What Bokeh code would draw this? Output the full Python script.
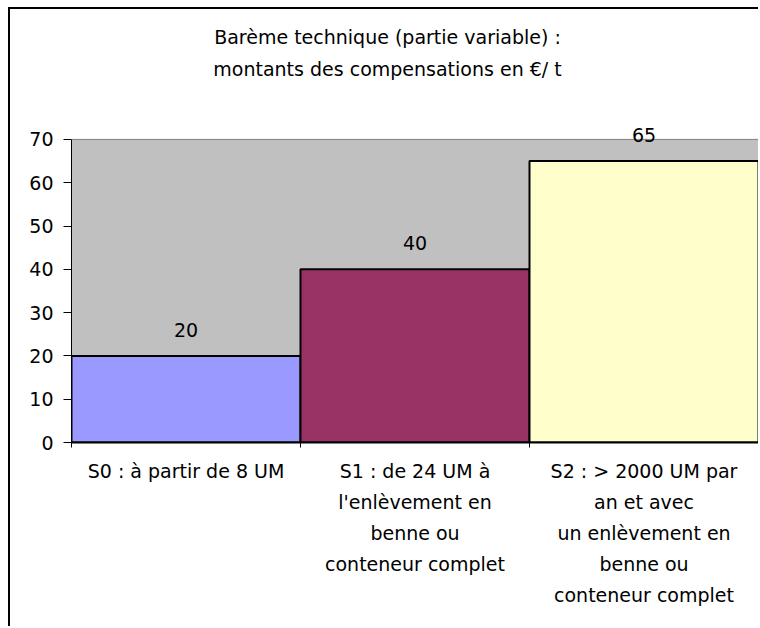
from bokeh.plotting import figure
from bokeh.models import FixedTicker, LabelSet, Label, ColumnDataSource, Range1d
from bokeh.core.properties import value
from bokeh.embed import file_html
from bokeh.resources import INLINE

# ---- data ----
categories = [
    "S0 : à partir de 8 UM",
    "S1 : de 24 UM à\nl'enlèvement en\nbenne ou\nconteneur complet",
    "S2 : > 2000 UM par\nan et avec\nun enlèvement en\nbenne ou\nconteneur complet",
]
values = [20, 40, 65]
y_ticks = [0, 10, 20, 30, 40, 50, 60, 70]
colors = ["#9999FF", "#993366", "#FFFFCC"]
title_line1 = "Barème technique (partie variable) :"
title_line2 = "montants des compensations en €/ t"

FONT = "DejaVu Sans"
FS = "19px"
TFS = "19px"
Y_MAX = 100  # visible range incl. the title zone above the plot area

idx = list(range(len(values)))
left = idx
right = [i + 1 for i in idx]
centers = [i + 0.5 for i in idx]
src = ColumnDataSource(dict(left=left, right=right, top=values, center=centers,
                            color=colors, label=[str(v) for v in values]))

p = figure(width=750, height=619, x_range=Range1d(0, len(values)), y_range=Range1d(0, Y_MAX),
           output_backend="svg", toolbar_location=None, title=None,
           min_border_left=61, min_border_right=2, min_border_top=0, min_border_bottom=186)
p.styles = {"margin-left": "8px", "margin-top": "7px",
            "border-left": "2px solid black", "border-top": "2px solid black"}
p.background_fill_color = "white"
p.border_fill_color = "white"
p.outline_line_color = None
p.grid.visible = False

# plot area (grey wall) up to the top tick
p.quad(left=left[0], right=right[-1], bottom=y_ticks[0], top=y_ticks[-1],
       fill_color="#C0C0C0", line_color="#808080", line_width=1)

p.quad(left="left", right="right", bottom=0, top="top", fill_color="color",
       line_color="black", line_width=2, source=src)

p.add_layout(LabelSet(x="center", y="top", text="label", source=src, y_offset=26,
                      text_align="center", text_baseline="middle",
                      text_font=value(FONT), text_font_size=value(FS), text_color="black"))

# titles
p.add_layout(Label(x=316, y=406, x_units="screen", y_units="screen", text=title_line1,
                   text_align="center", text_baseline="middle",
                   text_font=FONT, text_font_size=TFS, text_color="black"))
p.add_layout(Label(x=316, y=374, x_units="screen", y_units="screen", text=title_line2,
                   text_align="center", text_baseline="middle",
                   text_font=FONT, text_font_size=TFS, text_color="black"))

# y axis
ya = p.yaxis[0]
ya.ticker = FixedTicker(ticks=y_ticks)
ya.bounds = (y_ticks[0], y_ticks[-1])
ya.axis_line_color = "black"
ya.major_tick_line_color = "black"
ya.major_tick_out = 8
ya.major_tick_in = 0
ya.minor_tick_line_color = None
ya.major_label_standoff = 10
ya.major_label_text_font = FONT
ya.major_label_text_font_size = FS
ya.major_label_text_color = "black"

# x axis
xa = p.xaxis[0]
xa.ticker = FixedTicker(ticks=centers, minor_ticks=left + [right[-1]])
xa.major_label_overrides = {c: cat for c, cat in zip(centers, categories)}
xa.axis_line_color = "black"
xa.axis_line_width = 2
xa.major_tick_line_color = None
xa.major_tick_out = 0
xa.major_tick_in = 0
xa.minor_tick_line_color = "black"
xa.minor_tick_out = 5
xa.minor_tick_in = 0
xa.major_label_standoff = 12
xa.major_label_text_font = FONT
xa.major_label_text_font_size = FS
xa.major_label_text_color = "black"
xa.major_label_text_line_height = 1.41

open("out.html", "w").write(file_html(p, INLINE))
